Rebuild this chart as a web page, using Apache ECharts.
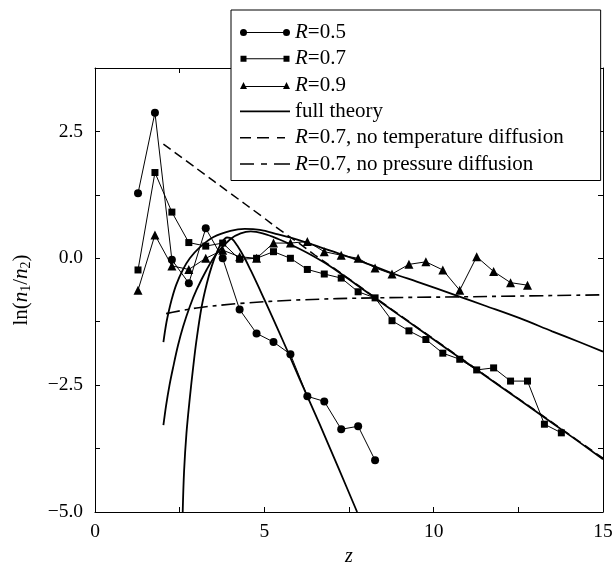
<!DOCTYPE html>
<html>
<head>
<meta charset="utf-8">
<script src="https://cdn.jsdelivr.net/npm/echarts@6/dist/echarts.min.js"></script>
<style>
html,body{margin:0;padding:0;background:#fff;}
#chart{width:613px;height:567px;}
</style>
</head>
<body>
<div id="chart"></div>
<script>
// ---- data ----
const zR05 = [1.27,1.77,2.27,2.77,3.27,3.77,4.27,4.77,5.27,5.77,6.27,6.77,7.27,7.77,8.27];
const yR05 = [1.28,2.87,-0.03,-0.49,0.59,0.0,-1.01,-1.48,-1.65,-1.89,-2.72,-2.82,-3.37,-3.31,-3.98];

const zR07 = [1.27,1.77,2.27,2.77,3.27,3.77,4.27,4.77,5.27,5.77,6.27,6.77,7.27,7.77,8.27,8.77,9.27,9.77,10.27,10.77,11.27,11.77,12.27,12.77,13.27,13.77];
const yR07 = [-0.23,1.69,0.91,0.31,0.24,0.30,-0.02,0.0,0.13,0.0,-0.22,-0.31,-0.39,-0.66,-0.78,-1.23,-1.43,-1.60,-1.87,-1.99,-2.20,-2.16,-2.42,-2.42,-3.27,-3.44];

const zR09 = [1.27,1.77,2.27,2.77,3.27,3.77,4.27,4.77,5.27,5.77,6.27,6.77,7.27,7.77,8.27,8.77,9.27,9.77,10.27,10.77,11.27,11.77,12.27,12.77];
const yR09 = [-0.63,0.46,-0.15,-0.22,0.0,0.16,0.03,0.0,0.30,0.30,0.33,0.13,0.06,0.0,-0.19,-0.31,-0.12,-0.07,-0.23,-0.63,0.03,-0.26,-0.48,-0.53];

const zTh05 = [2.59,2.63,2.7,2.8,2.9,3.0,3.15,3.3,3.45,3.6,3.75,3.9,4.05,4.2,4.42,4.6,4.82,5.06,5.4,5.75,6.05,6.64,7.2,7.74];
const yTh05 = [-5.0,-4.2,-3.45,-2.75,-2.14,-1.6,-0.95,-0.5,-0.15,0.12,0.32,0.41,0.38,0.25,0.0,-0.24,-0.55,-0.9,-1.4,-1.93,-2.39,-3.28,-4.15,-5.0];

const zTh07 = [2.02,2.1,2.2,2.31,2.45,2.6,2.8,3.0,3.3,3.6,4.0,4.3,4.6,5.0,5.41,5.75,6.29,6.93,7.72,8.41,9.0,10.0,11.0,12.0,13.0,14.0,15.0];
const yTh07 = [-3.29,-2.9,-2.5,-2.14,-1.72,-1.35,-0.95,-0.62,-0.22,0.1,0.38,0.49,0.53,0.48,0.38,0.28,0.1,-0.15,-0.52,-0.85,-1.13,-1.6,-2.07,-2.54,-3.01,-3.48,-3.96];

const zTh09 = [2.02,2.1,2.18,2.26,2.4,2.6,2.8,3.1,3.5,4.0,4.42,4.87,5.41,5.75,6.29,7.0,7.82,8.8,9.5,10.7,11.5,12.54,13.5,14.3,15.0];
const yTh09 = [-1.65,-1.3,-1.04,-0.82,-0.52,-0.22,0.0,0.22,0.42,0.54,0.58,0.56,0.47,0.41,0.30,0.14,-0.05,-0.3,-0.46,-0.74,-0.93,-1.18,-1.44,-1.65,-1.84];

const zNoTemp = [2.02,3.0,4.0,4.9,5.46,6.14,6.5,7.0,7.72,8.41,9.0,10.0,11.0,12.0,13.0,14.0,15.0];
const yNoTemp = [2.25,1.77,1.28,0.84,0.56,0.24,0.06,-0.17,-0.51,-0.84,-1.12,-1.59,-2.06,-2.53,-3.0,-3.47,-3.94];

const zNoPress = [2.1,3.0,4.28,6.05,8.26,10.8,15.0];
const yNoPress = [-1.09,-0.98,-0.89,-0.82,-0.78,-0.76,-0.72];

const xTickLabels = ['0','5','10','15'];
const yTickLabels = ['−5.0','−2.5','0.0','2.5'];

const seriesNames = ['R=0.5','R=0.7','R=0.9','full theory','R=0.7, no temperature diffusion','R=0.7, no pressure diffusion'];

// ---- helpers ----
const pairs = (xs, ys) => xs.map((x, i) => [x, ys[i]]);
const FONT = 'Liberation Serif';
const anchors = ' M0,0 L0,0.001 L0.001,0 Z M50,10 L50,9.999 L49.999,10 Z';
const icons = [
  'path://M0,5 A3.5,3.5 0 1,1 7,5 A3.5,3.5 0 1,1 0,5 Z M43,5 A3.5,3.5 0 1,1 50,5 A3.5,3.5 0 1,1 43,5 Z M3.5,4.45 L46.5,4.45 L46.5,5.55 L3.5,5.55 Z' + anchors,
  'path://M0.5,2 L6.5,2 L6.5,8 L0.5,8 Z M43.5,2 L49.5,2 L49.5,8 L43.5,8 Z M3.5,4.45 L46.5,4.45 L46.5,5.55 L3.5,5.55 Z' + anchors,
  'path://M0,9 L3.5,2 L7,9 Z M43,9 L46.5,2 L50,9 Z M3.5,5.9 L46.5,5.9 L46.5,7 L3.5,7 Z' + anchors,
  'path://M0,4.2 L50,4.2 L50,5.8 L0,5.8 Z' + anchors,
  'path://M0,4.3 L11,4.3 L11,5.7 L0,5.7 Z M17,4.3 L29,4.3 L29,5.7 L17,5.7 Z M37,4.3 L45,4.3 L45,5.7 L37,5.7 Z' + anchors,
  'path://M0,4.3 L14,4.3 L14,5.7 L0,5.7 Z M21,4.3 L27,4.3 L27,5.7 L21,5.7 Z M34,4.3 L50,4.3 L50,5.7 L34,5.7 Z' + anchors
];

const fmtX = v => (Math.abs(v % 5) < 1e-9) ? xTickLabels[Math.round(v / 5)] : '';
const fmtY = v => (Math.abs(v % 2.5) < 1e-9) ? yTickLabels[Math.round((v + 5) / 2.5)] : '';

const axisCommon = {
  axisLine: { show: true, onZero: false, lineStyle: { color: '#000', width: 1 } },
  axisTick: { show: true, inside: true, length: 5, lineStyle: { color: '#000', width: 1 } },
  splitLine: { show: false }
};

const dataLine = (name, xs, ys, symbol, size) => ({
  name, type: 'line', data: pairs(xs, ys), symbol, symbolSize: size,
  itemStyle: { color: '#000', borderWidth: 0 },
  lineStyle: { color: '#000', width: 1 },
  z: 3, animation: false
});
const theoryLine = (name, xs, ys, type, width) => ({
  name, type: 'line', data: pairs(xs, ys), symbol: 'none', smooth: 0.35,
  itemStyle: { color: '#000' },
  lineStyle: { color: '#000', width, type },
  z: 2, animation: false
});

const LBL = 19.5, LEG = 21;

const chart = echarts.init(document.getElementById('chart'), null, { renderer: 'canvas' });
chart.setOption({
  backgroundColor: '#fff',
  animation: false,
  textStyle: { fontFamily: FONT, color: '#000' },
  grid: { left: 95, right: 10, top: 68, bottom: 55, containLabel: false, outerBoundsMode: 'none' },
  xAxis: [
    Object.assign({
      type: 'value', min: 0, max: 15, interval: 2.5, position: 'bottom',
      name: 'z', nameLocation: 'middle', nameGap: 30,
      nameTextStyle: { fontFamily: FONT, fontSize: 20, fontStyle: 'italic', color: '#000' },
      axisLabel: { formatter: fmtX, fontFamily: FONT, fontSize: LBL, color: '#000', margin: 10 }
    }, axisCommon),
    Object.assign({
      type: 'value', min: 0, max: 15, interval: 2.5, position: 'top',
      axisLabel: { show: false }
    }, axisCommon)
  ],
  yAxis: [
    Object.assign({
      type: 'value', min: -5, max: 3.75, interval: 1.25, position: 'left',
      name: '{r|ln(}{i|n}{s|1}{r|/}{i|n}{s|2}{r|)}', nameLocation: 'middle', nameGap: 62, nameRotate: 90,
      nameTextStyle: {
        fontFamily: FONT, fontSize: 21, color: '#000',
        rich: {
          r: { fontFamily: FONT, fontSize: 21, color: '#000' },
          i: { fontFamily: FONT, fontSize: 21, fontStyle: 'italic', color: '#000' },
          s: { fontFamily: FONT, fontSize: 14, color: '#000', padding: [9, 0, 0, 0] }
        }
      },
      axisLabel: { formatter: fmtY, fontFamily: FONT, fontSize: LBL, color: '#000', margin: 12 }
    }, axisCommon),
    Object.assign({
      type: 'value', min: -5, max: 3.75, interval: 1.25, position: 'right',
      axisLabel: { show: false }
    }, axisCommon)
  ],
  legend: {
    orient: 'vertical', left: 231, top: 10,
    padding: [12, 37, 6, 9],
    backgroundColor: '#fff', borderColor: '#000', borderWidth: 1,
    itemWidth: 50, itemHeight: 10, itemGap: 5.3,
    symbolKeepAspect: false,
    itemStyle: { color: '#000', borderWidth: 0 },
    selectedMode: false,
    data: seriesNames.map((n, i) => ({ name: n, icon: icons[i] })),
    formatter: n => n.indexOf('R=') === 0 ? '{i|R}{r|' + n.slice(1) + '}' : '{r|' + n + '}',
    textStyle: {
      fontFamily: FONT, fontSize: LEG, color: '#000', lineHeight: 19.5,
      rich: {
        r: { fontFamily: FONT, fontSize: LEG, color: '#000', lineHeight: 19.5 },
        i: { fontFamily: FONT, fontSize: LEG, fontStyle: 'italic', color: '#000', lineHeight: 19.5 }
      }
    }
  },
  series: [
    dataLine(seriesNames[0], zR05, yR05, 'circle', 8),
    dataLine(seriesNames[1], zR07, yR07, 'rect', 7),
    dataLine(seriesNames[2], zR09, yR09, 'triangle', 9),
    theoryLine(seriesNames[3], zTh05, yTh05, 'solid', 1.8),
    theoryLine(seriesNames[3], zTh07, yTh07, 'solid', 1.8),
    theoryLine(seriesNames[3], zTh09, yTh09, 'solid', 1.8),
    theoryLine(seriesNames[4], zNoTemp, yNoTemp, [9, 5], 1.5),
    theoryLine(seriesNames[5], zNoPress, yNoPress, [14, 5, 4, 5], 1.6)
  ]
});
</script>
</body>
</html>
